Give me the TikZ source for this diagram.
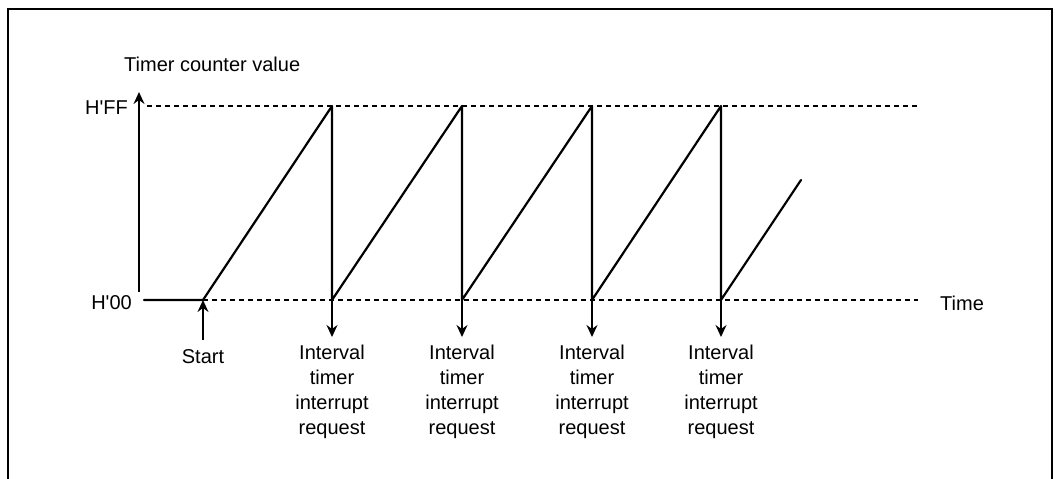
\documentclass[tikz,border=0pt]{standalone}
\usepackage{fontspec}
\setmainfont{Liberation Sans}
\usetikzlibrary{arrows.meta}
\begin{document}
\begin{tikzpicture}[x=1pt,y=-1pt,
  lbl/.style={font=\fontsize{20}{25}\selectfont, inner sep=0pt},
  ramp/.style={line width=2.2pt, line cap=round, line join=round},
  axis/.style={line width=1.6pt},
  guide/.style={line width=1.3pt, dash pattern=on 5pt off 4pt},
  tip/.style={-{Stealth[length=12pt,width=11pt,inset=4pt]}},
  arr/.style={line width=1.6pt, tip},
  frame/.style={line width=2.2pt}]
\useasboundingbox (0,0) rectangle (1055,479);
% frame (open at bottom)
\draw[frame] (8,479) -- (8,9) -- (1052,9) -- (1052,479);
% axis and labels
\coordinate (ybot) at (139,292);
\coordinate (ytop) at (139,92);
\draw[axis,tip] (ybot) -- (ytop);
\node[lbl,anchor=west] (title) at (124,64) {Timer counter value};
\node[lbl,anchor=east] (hff) at (128,108) {H\textquotesingle FF};
\node[lbl,anchor=east] (h00) at (132,303) {H\textquotesingle 00};
\node[lbl,anchor=west] (time) at (940,303) {Time};
% key points
\coordinate (b0) at (144,300);
\coordinate (s) at (203,300);
\coordinate (p1) at (332,106); \coordinate (d1) at (332,300);
\coordinate (p2) at (462,106); \coordinate (d2) at (462,300);
\coordinate (p3) at (592,106); \coordinate (d3) at (592,300);
\coordinate (p4) at (721,106); \coordinate (d4) at (721,300);
\coordinate (e) at (801,180);
\coordinate (topL) at (147,106); \coordinate (topR) at (920,106);
\coordinate (botR) at (918,300);
% dashed guides
\draw[guide] (topL) -- (topR);
\draw[guide] (s) -- (botR);
% sawtooth
\draw[ramp] (b0) -- (s) -- (p1) -- (d1) -- (p2) -- (d2) -- (p3) -- (d3) -- (p4) -- (d4) -- (e);
% start arrow
\coordinate (sa) at (203,340);
\draw[arr] (sa) -- (s);
\node[lbl,anchor=north] (start) at (203,349) {Start};
% interrupt arrows and labels
\foreach \i/\x in {1/332,2/462,3/592,4/721}{
  \coordinate (q\i) at (\x,337);
  \draw[arr] (d\i) -- (q\i);
  \node[lbl,anchor=north,align=center] (int\i) at (\x,345) {Interval\\timer\\interrupt\\request};
}
\end{tikzpicture}
\end{document}
